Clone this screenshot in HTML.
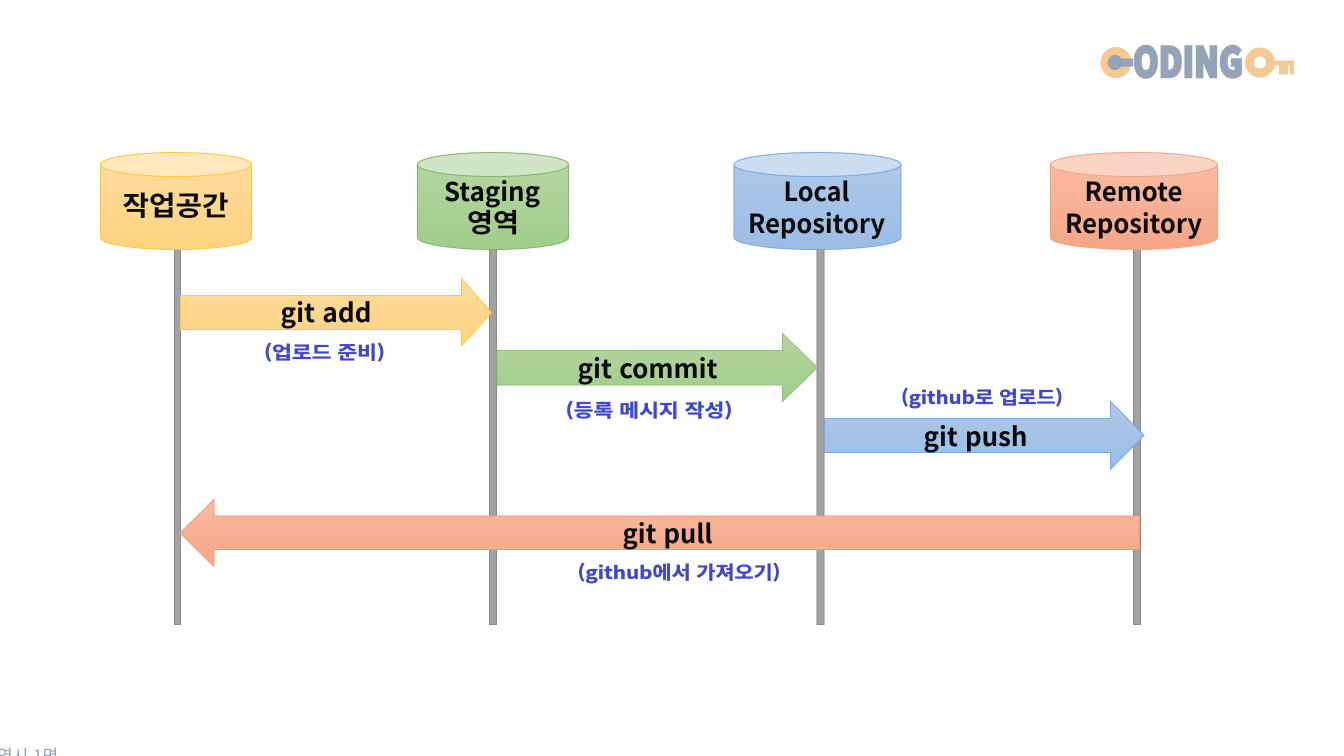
<!DOCTYPE html>
<html lang="ko">
<head>
<meta charset="utf-8">
<title>Git workflow</title>
<style>
html,body{margin:0;padding:0;background:#fff;width:1344px;height:756px;overflow:hidden}
svg{display:block}
text{font-family:"Noto Sans CJK KR","Liberation Sans",sans-serif;font-weight:700}
.t{fill:#0a0a0a;font-size:26px;text-anchor:middle}
.s{fill:#3f48cc;font-size:18px;text-anchor:middle;stroke:#3f48cc;stroke-width:.35px}
</style>
</head>
<body>
<svg width="1344" height="756" viewBox="0 0 1344 756" xmlns="http://www.w3.org/2000/svg">
<defs>
<linearGradient id="y" x1="0" y1="0" x2="0" y2="1"><stop offset="0" stop-color="#fedb9e"/><stop offset="1" stop-color="#ffd47f"/></linearGradient>
<linearGradient id="g" x1="0" y1="0" x2="0" y2="1"><stop offset="0" stop-color="#b5d5a3"/><stop offset="1" stop-color="#a0cd8a"/></linearGradient>
<linearGradient id="b" x1="0" y1="0" x2="0" y2="1"><stop offset="0" stop-color="#adc8e9"/><stop offset="1" stop-color="#9bbde5"/></linearGradient>
<linearGradient id="o" x1="0" y1="0" x2="0" y2="1"><stop offset="0" stop-color="#f8bba3"/><stop offset="1" stop-color="#f6a586"/></linearGradient>
</defs>

<!-- lifelines -->
<g fill="#a2a2a2" stroke="#8a8a8a" stroke-width="1">
<rect x="174.500" y="249" width="6" height="375.500"/>
<rect x="489.500" y="249" width="7" height="375.500"/>
<rect x="817" y="249" width="7" height="375.500"/>
<rect x="1133.500" y="249" width="7" height="375.500"/>
</g>

<!-- cylinders -->
<g stroke="#ffc734" stroke-width="1">
<path d="M100.500 164.500V237.500C100.500 244 134 249.500 176 249.500S251.500 244 251.500 237.500V164.500Z" fill="url(#y)"/>
<ellipse cx="176" cy="164.500" rx="75.500" ry="12" fill="#ffe8be"/>
</g>
<g stroke="#7fb665" stroke-width="1">
<path d="M417.500 164.500V237.500C417.500 244 451 249.500 493 249.500S568.500 244 568.500 237.500V164.500Z" fill="url(#g)"/>
<ellipse cx="493" cy="164.500" rx="75.500" ry="12" fill="#d0e5c5"/>
</g>
<g stroke="#74a8df" stroke-width="1">
<path d="M734 164.500V237.500C734 244 771 249.500 817.500 249.500S901 244 901 237.500V164.500Z" fill="url(#b)"/>
<ellipse cx="817.500" cy="164.500" rx="83.500" ry="12" fill="#ccddf1"/>
</g>
<g stroke="#f4a27f" stroke-width="1">
<path d="M1050.500 164.500V237.500C1050.500 244 1088 249.500 1134 249.500S1217.500 244 1217.500 237.500V164.500Z" fill="url(#o)"/>
<ellipse cx="1134" cy="164.500" rx="83.500" ry="12" fill="#f9d3c4"/>
</g>

<!-- arrows -->
<path d="M180.500 295.500H461.500V278.500L491.500 312.500L461.500 346V329.500H180.500Z" fill="url(#y)" stroke="#ffc93f" stroke-width="1"/>
<path d="M497 350.500H782.500V333.500L817.500 367.500L782.500 401.500V385H497Z" fill="url(#g)" stroke="#8fc076" stroke-width="1"/>
<path d="M824.500 418.500H1110.500V401.500L1144 435.500L1110.500 469V452.500H824.500Z" fill="url(#b)" stroke="#76a8de" stroke-width="1"/>
<path d="M1139.500 516H214V499.500L180 533L214 566.500V549.500H1139.500Z" fill="url(#o)" stroke="#f09c78" stroke-width="1"/>

<!-- cylinder labels -->
<text class="t" x="175.500" y="215.500" textLength="106" lengthAdjust="spacingAndGlyphs" style="font-size:27px">작업공간</text>
<text class="t" x="492" y="201" textLength="96" lengthAdjust="spacingAndGlyphs">Staging</text>
<text class="t" x="493" y="232" textLength="52" lengthAdjust="spacingAndGlyphs">영역</text>
<text class="t" x="816.500" y="201" textLength="66" lengthAdjust="spacingAndGlyphs">Local</text>
<text class="t" x="816.500" y="233" textLength="137" lengthAdjust="spacingAndGlyphs">Repository</text>
<text class="t" x="1133.500" y="201" textLength="98" lengthAdjust="spacingAndGlyphs">Remote</text>
<text class="t" x="1133.500" y="233" textLength="137" lengthAdjust="spacingAndGlyphs">Repository</text>

<!-- arrow labels -->
<text class="t" x="326" y="322" textLength="91" lengthAdjust="spacingAndGlyphs">git add</text>
<text class="t" x="647.500" y="378" textLength="140" lengthAdjust="spacingAndGlyphs">git commit</text>
<text class="t" x="975.500" y="446" textLength="104" lengthAdjust="spacingAndGlyphs">git push</text>
<text class="t" x="667.500" y="543" textLength="90" lengthAdjust="spacingAndGlyphs">git pull</text>

<text class="s" x="324.500" y="359" textLength="121" lengthAdjust="spacingAndGlyphs">(업로드 준비)</text>
<text class="s" x="649" y="417" textLength="167" lengthAdjust="spacingAndGlyphs">(등록 메시지 작성)</text>
<text class="s" x="982" y="404" textLength="162" lengthAdjust="spacingAndGlyphs">(github로 업로드)</text>
<text class="s" x="679" y="579" textLength="203" lengthAdjust="spacingAndGlyphs">(github에서 가져오기)</text>

<!-- logo -->
<circle cx="1116" cy="62.500" r="15.500" fill="#f5c993"/>
<circle cx="1115" cy="62.500" r="7.500" fill="#94a3b7"/>
<rect x="1115" y="58.500" width="18" height="8" fill="#94a3b7"/>
<text x="1133" y="77" textLength="110" lengthAdjust="spacingAndGlyphs" style="font-size:41px;font-weight:900;fill:#94a3b7;stroke:#94a3b7;stroke-width:2.500px">ODING</text>
<circle cx="1260" cy="62.500" r="10.500" fill="none" stroke="#f5c993" stroke-width="9"/>
<path d="M1272 60.500h22v14h-4v-9h-2v9h-9v-9h-7z" fill="#f5c993"/>

<!-- cut-off footer text -->
<text x="-3" y="762" style="font-size:17px;font-weight:400;fill:#8fa4b5">역시 1명</text>
</svg>
</body>
</html>
